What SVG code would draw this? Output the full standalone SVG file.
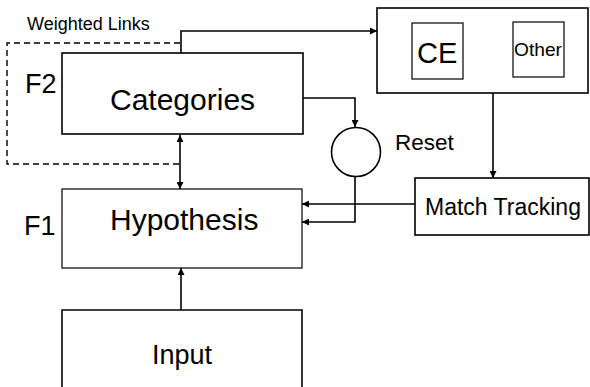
<svg xmlns="http://www.w3.org/2000/svg" width="590" height="387" viewBox="0 0 590 387">
<style>
.box{fill:#fff;stroke:#000;stroke-width:1.6}
.thin{fill:#fff;stroke:#000;stroke-width:1.2}
.ln{fill:none;stroke:#000;stroke-width:1.6}
.dash{fill:none;stroke:#000;stroke-width:1.4;stroke-dasharray:6,4}
text{font-family:"Liberation Sans",Arial,sans-serif;fill:#000}
</style>
<defs>
<marker id="ah" viewBox="0 0 10 10" refX="10" refY="5" markerWidth="7" markerHeight="7" markerUnits="userSpaceOnUse" orient="auto-start-reverse">
<path d="M0,0 L10,5 L0,10 z" fill="#000"/>
</marker>
</defs>
<text x="27" y="30" font-size="18">Weighted Links</text>
<g id="connectors">
<path class="dash" d="M180,43 H7 V164 H180"/>
<path class="ln" d="M181,53 V31 H377" marker-end="url(#ah)"/>
<path class="ln" d="M303,98 H355 V127" marker-end="url(#ah)"/>
<path class="ln" d="M180,135 V189" marker-start="url(#ah)" marker-end="url(#ah)"/>
<path class="ln" d="M493,93 V178" marker-end="url(#ah)"/>
<path class="ln" d="M355,177 V222 H302" marker-end="url(#ah)"/>
<path class="ln" d="M415,204 H302" marker-end="url(#ah)"/>
<path class="ln" d="M181,310 V268" marker-end="url(#ah)"/>
</g>
<g id="categories">
<rect class="box" x="62" y="53" width="241" height="81"/>
<text x="110" y="110" font-size="30">Categories</text>
<text x="25" y="93" font-size="27">F2</text>
</g>
<g id="ce-group">
<rect class="box" x="377" y="8" width="211" height="85"/>
<g id="ce">
<rect class="thin" x="412" y="23" width="51" height="56"/>
<text x="417" y="63" font-size="29">CE</text>
</g>
<g id="other">
<rect class="thin" x="513" y="22" width="51" height="55"/>
<text x="514" y="56" font-size="19" textLength="48" lengthAdjust="spacingAndGlyphs">Other</text>
</g>
</g>
<g id="reset">
<circle class="box" cx="356" cy="152" r="24.5"/>
<text x="395" y="150" font-size="22.5">Reset</text>
</g>
<g id="match-tracking">
<rect class="box" x="415" y="178" width="174" height="57"/>
<text x="425" y="215" font-size="23">Match Tracking</text>
</g>
<g id="hypothesis">
<rect class="thin" x="62" y="189" width="240" height="79"/>
<text x="110" y="230" font-size="30">Hypothesis</text>
<text x="24" y="235" font-size="27">F1</text>
</g>
<g id="input">
<path class="box" d="M62,387 V310 H302 V387"/>
<text x="152" y="364" font-size="27">Input</text>
</g>
</svg>
